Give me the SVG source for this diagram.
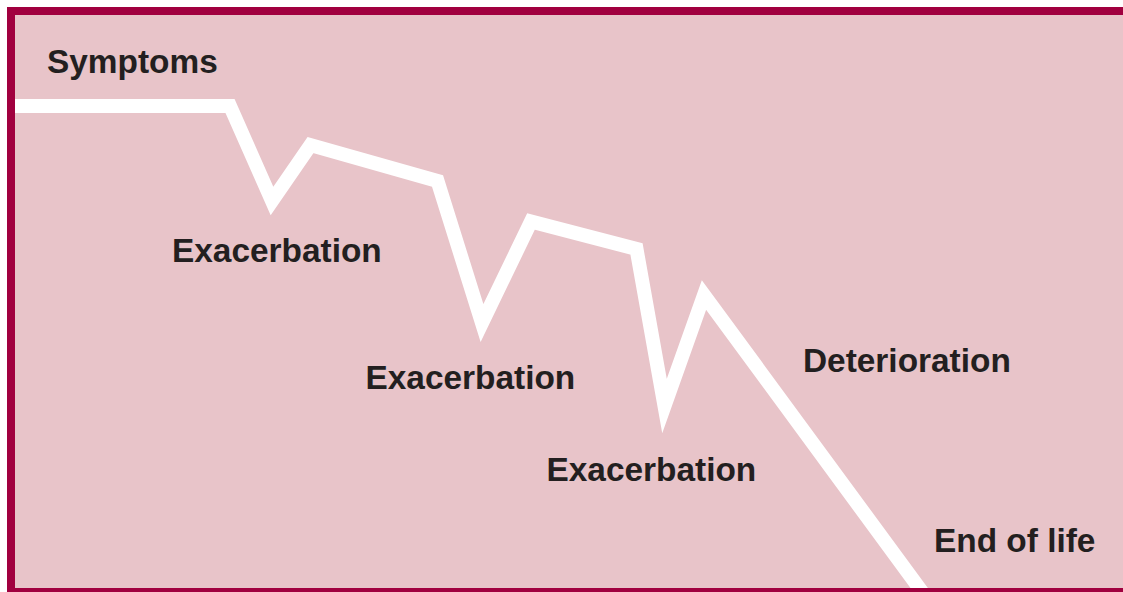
<svg xmlns="http://www.w3.org/2000/svg" width="1123" height="592" viewBox="0 0 1123 592">
<style>
.lbl{font-family:"Liberation Sans",Arial,sans-serif;font-weight:bold;font-size:33.4px;fill:#231F20}
</style>
<rect x="0" y="0" width="1123" height="592" fill="#FFFFFF"/>
<g id="frame">
<rect x="11" y="11" width="1122" height="581" fill="#E8C4C9" stroke="#A1003F" stroke-width="8"/>
</g>
<g id="connectors">
<polyline points="15,106 230,106 272,201 310.5,145 437.5,181 482,323 531,221.5 636.5,249 664.5,406 704,295 928,600" fill="none" stroke="#FFFFFF" stroke-width="14" stroke-linejoin="miter" stroke-miterlimit="20"/>
</g>
<g id="frame-bottom">
<line x1="7" y1="592" x2="1123" y2="592" stroke="#A1003F" stroke-width="8"/>
</g>
<g id="symptoms"><text class="lbl" x="47" y="73">Symptoms</text></g>
<g id="exacerbation1"><text class="lbl" x="172" y="261.5">Exacerbation</text></g>
<g id="exacerbation2"><text class="lbl" x="365.5" y="389">Exacerbation</text></g>
<g id="exacerbation3"><text class="lbl" x="546.5" y="480.5">Exacerbation</text></g>
<g id="deterioration"><text class="lbl" x="803" y="371.5">Deterioration</text></g>
<g id="end-of-life"><text class="lbl" x="934" y="552">End of life</text></g>
</svg>
